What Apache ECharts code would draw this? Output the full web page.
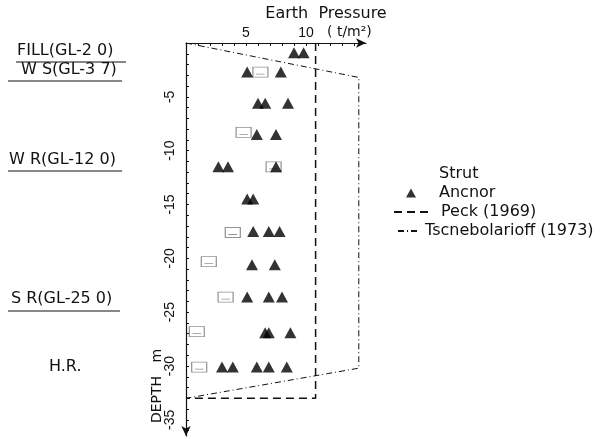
<!DOCTYPE html>
<html lang="en">
<head>
    <meta charset="utf-8" />
    <title>Earth Pressure</title>
    <script type="text/javascript" src="https://cdn.jsdelivr.net/npm/echarts/dist/echarts.min.js"></script>
    <style type="text/css">
        body { margin: 0; background: #fff; }
    </style>
</head>
<body>
    <div id="main" style="width:615px;height:439px;"></div>
    <script type="text/javascript">
        // anchor loads, one row per anchor level (depth in m, pressure in t/m2)
        var anchorLevels = [-0.9, -2.7, -5.6, -8.5, -11.5, -14.5, -17.5, -20.6, -23.6, -26.9, -30.1];
        var anchorLoads = [
            [9.0, 9.8],
            [5.1, 7.9],
            [6.0, 6.6, 8.5],
            [5.9, 7.5],
            [2.7, 3.5, 7.5],
            [5.1, 5.6],
            [5.6, 6.9, 7.8],
            [5.5, 7.4],
            [5.1, 6.9, 8.0],
            [6.6, 6.9, 8.7],
            [3.0, 3.9, 5.9, 6.9, 8.4]
        ];
        // strut loads
        var strutDepth = [-2.7, -8.3, -11.5, -17.6, -20.3, -23.6, -26.8, -30.1];
        var strutLoad = [6.2, 4.8, 7.3, 3.9, 1.9, 3.3, 0.9, 1.1];
        // design envelopes
        var peckLoad = [10.8, 10.8, 0];
        var peckDepth = [0, -33, -33];
        var tsLoad = [0, 14.4, 14.4, 0];
        var tsDepth = [0, -3.2, -30.2, -33];
        // axis ticks
        var xLabels = [5, 10];
        var yLabels = [-5, -10, -15, -20, -25, -30, -35];
        // soil layers on the left
        var layerNames = ['FILL(GL-2 0)', 'W S(GL-3 7)', 'W R(GL-12 0)', 'S R(GL-25 0)', 'H.R.'];

        var anchorData = [];
        anchorLevels.forEach(function (d, i) {
            anchorLoads[i].forEach(function (v) { anchorData.push([v, d]); });
        });
        var strutData = strutDepth.map(function (d, i) { return [strutLoad[i], d]; });
        var peckData = peckDepth.map(function (d, i) { return [peckLoad[i], d]; });
        var tsData = tsDepth.map(function (d, i) { return [tsLoad[i], d]; });

        var xTicks = [];
        for (var i = 1; i <= 14; i++) xTicks.push(i);
        var yTicks = [];
        for (var j = -1; j >= -36; j--) yTicks.push(j);

        var myChart = echarts.init(document.getElementById('main'));
        var font = '"DejaVu Sans", sans-serif';
        var tickFont = '"Liberation Sans", Arial, sans-serif';

        // left layer labels: [x, text middle y, underline y, underline x1, underline x2]
        var layerPos = [[17, 51, 62, 16, 126], [21, 70, 81, 8, 122], [9, 160, 171, 8, 122], [11, 299, 311, 8, 120], [49, 367, 0]];
        var graphics = [];
        layerNames.forEach(function (name, k) {
            var p = layerPos[k];
            graphics.push({
                type: 'text', x: p[0], y: p[1],
                style: { text: name, font: '16px ' + font, fill: '#111', verticalAlign: 'middle' }
            });
            if (p[2]) {
                graphics.push({
                    type: 'line', shape: { x1: p[3], y1: p[2], x2: p[4], y2: p[2] },
                    style: { stroke: '#111', lineWidth: 1 }
                });
            }
        });
        graphics.push({
            type: 'text', x: 326, y: 14,
            style: { text: 'Earth  Pressure', font: '16px ' + font, fill: '#111', align: 'center', verticalAlign: 'middle' }
        });
        graphics.push({
            type: 'text', x: 327, y: 32,
            style: { text: '( t/m²)', font: '14px ' + font, fill: '#111', align: 'left', verticalAlign: 'middle' }
        });
        graphics.push({
            type: 'text', x: 157, y: 386, rotation: Math.PI / 2,
            style: { text: 'DEPTH   m', font: '14px ' + font, fill: '#111', align: 'center', verticalAlign: 'middle' }
        });

        var legendText = { fontFamily: font, fontSize: 16, color: '#111' };
        var option = {
            animation: false,
            backgroundColor: '#fff',
            grid: { left: 186, top: 43, width: 180, height: 393 },
            legend: [{
                orient: 'vertical', left: 400, top: 161, itemGap: 3,
                itemWidth: 10, itemHeight: 9,
                textStyle: Object.assign({ padding: [0, 0, 0, 18] }, legendText),
                data: [{ name: 'Strut', itemStyle: { opacity: 0 } }, 'Ancnor']
            }, {
                orient: 'vertical', left: 388, top: 199,
                itemWidth: 34, itemHeight: 10,
                textStyle: Object.assign({ padding: [0, 0, 0, 8] }, legendText),
                data: [{ name: 'Peck (1969)', itemStyle: { opacity: 0 } }]
            }, {
                orient: 'vertical', left: 392, top: 218,
                itemWidth: 22, itemHeight: 10,
                textStyle: legendText,
                data: [{ name: 'Tscnebolarioff (1973)', itemStyle: { opacity: 0 } }]
            }],
            xAxis: {
                type: 'value', position: 'top', min: 0, max: 15,
                axisLine: { onZero: false, lineStyle: { color: '#111', width: 1.2 }, symbol: ['none', 'arrow'], symbolSize: [7, 10] },
                axisTick: { inside: true, length: 3, customValues: xTicks, lineStyle: { color: '#111' } },
                axisLabel: { customValues: xLabels, margin: 3, fontFamily: tickFont, fontSize: 14, color: '#111' },
                splitLine: { show: false }
            },
            yAxis: {
                type: 'value', min: -36.5, max: 0,
                axisLine: { onZero: false, lineStyle: { color: '#111', width: 1.2 }, symbol: ['arrow', 'none'], symbolSize: [7, 10] },
                axisTick: { inside: true, length: 3, customValues: yTicks, lineStyle: { color: '#111' } },
                axisLabel: { customValues: yLabels, rotate: 90, margin: 9, fontFamily: tickFont, fontSize: 14, color: '#111' },
                splitLine: { show: false }
            },
            graphic: graphics,
            series: [{
                name: 'Strut', type: 'scatter', z: 2,
                symbol: 'path://M0,0H14V10H0Z M3,7H11',
                symbolSize: [15, 10],
                itemStyle: { color: '#fff', borderColor: '#777', borderWidth: 1 },
                data: strutData
            }, {
                name: 'Ancnor', type: 'scatter', z: 3,
                symbol: 'triangle', symbolSize: [12, 11],
                itemStyle: { color: '#000' },
                data: anchorData
            }, {
                name: 'Peck (1969)', type: 'line', symbol: 'none',
                itemStyle: { color: '#111' },
                lineStyle: { color: '#111', width: 1.5, type: [8, 5] },
                data: peckData
            }, {
                name: 'Tscnebolarioff (1973)', type: 'line', symbol: 'none',
                itemStyle: { color: '#111' },
                lineStyle: { color: '#111', width: 1, type: [6, 3, 1, 3] },
                data: tsData
            }]
        };
        myChart.setOption(option);
    </script>
</body>
</html>
